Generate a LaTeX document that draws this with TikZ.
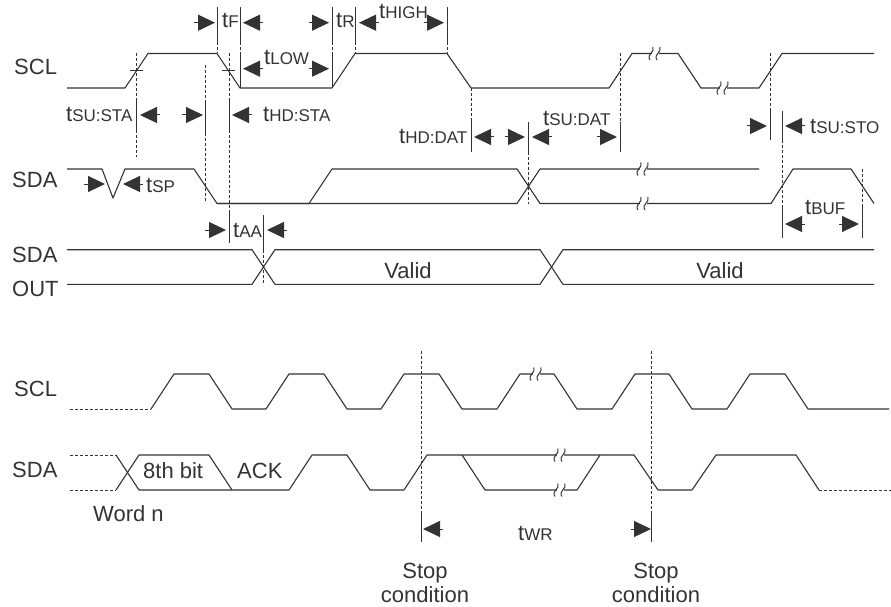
\documentclass[tikz,border=0pt]{standalone}
\usepackage{fontspec}
\setmainfont{Liberation Sans}
\usetikzlibrary{arrows.meta}
\definecolor{ink}{HTML}{333333}
\def\bigfont{\fontsize{22}{24}\selectfont}
\def\tsub(#1){{\bigfont t\fontsize{17}{24}\selectfont #1}}
\tikzset{
  wave/.style={draw=ink,line width=1.1pt,line join=round},
  dashwave/.style={draw=ink,line width=0.9pt,dash pattern=on 3pt off 2pt},
  vsolid/.style={draw=ink,line width=1pt},
  vdash/.style={draw=ink,line width=1pt,dash pattern=on 3pt off 2pt},
  dimarrow/.style={draw=ink,fill=ink,line width=1pt,-{Triangle[length=17pt,width=16pt]}},
  lab/.style={anchor=base west,inner sep=0pt,text=ink,font=\bigfont},
  txt/.style={anchor=base,inner sep=0pt,text=ink,font=\bigfont},
  brk/.pic={
    \fill[white] (-3.5,-3) rectangle (3.5,3);
    \draw[draw=ink,line width=1pt] (-5,6.5) .. controls (-9,1) and (0,-1) .. (-2,-6.5);
    \draw[draw=ink,line width=1pt] (2,6.5) .. controls (-2,1) and (7,-1) .. (5,-6.5);
  }
}
\begin{document}
\begin{tikzpicture}[x=1pt,y=-1pt]
\useasboundingbox (0,0) rectangle (891,607);
% upper waveforms
\draw[wave] (67,88)--(125,88)--(148,53.5)--(217,53.5)--(240,88)--(332,88)--(355,53.5)--(447,53.5)--(471,88)--(609,88)--(632,53.5)--(678,53.5)--(701,88)--(759,88)--(782,53.5)--(874,53.5);
\draw[wave] (67,169)--(102,169)--(113,198)--(125,169)--(194,169)--(217,203.5)--(309,203.5)--(332,169)--(517,169)--(540,203.5)--(771,203.5)--(793,169)--(851,169)--(874,203.5);
\draw[wave] (217,203.5)--(517,203.5)--(540,169)--(759,169);
\draw[wave] (67,249.7)--(252,249.7)--(275,284.3)--(540,284.3)--(563,249.7)--(874,249.7);
\draw[wave] (67,284.3)--(252,284.3)--(275,249.7)--(540,249.7)--(563,284.3)--(874,284.3);
% lower waveforms
\draw[dashwave] (70,409)--(151,409);
\draw[wave] (151,409)--(174,374)--(209,374)--(232,409)--(266,409)--(289,374)--(324,374)--(347,409)--(381,409)--(404,374)--(439,374)--(462,409)--(497,409)--(520,374)--(554,374)--(577,409)--(612,409)--(635,374)--(669,374)--(692,409)--(727,409)--(750,374)--(785,374)--(808,409)--(889,409);
\draw[dashwave] (70,455)--(116,455);
\draw[dashwave] (70,490)--(116,490);
\draw[wave] (116,455)--(139,490)--(232,490)--(289,490)--(312,455)--(347,455)--(370,490)--(404,490)--(427,455)--(634,455)--(658,490)--(692,490)--(716,455)--(796,455)--(819,490);
\draw[wave] (116,490)--(139,455)--(209,455)--(232,490);
\draw[wave] (462,455)--(485,490)--(577,490)--(600,455);
\draw[dashwave] (819,490)--(891,490);
% breaks
\foreach \x/\y in {655/53.5,723/88,643/169,643/203.5,536/374,560/455,560/490}
  \pic at (\x,\y) {brk};
% ticks
\draw[vsolid] (130,70.7)--(143,70.7);
\draw[vsolid] (222,70.7)--(235,70.7);
% solid parts of the extension lines
\foreach \x/\ya/\yb in {136/100/130,205/103/133,229/100/130,229/213/243,217/7/42,240/7/42,240/53/88,332/7/42,332/53/88,355/7/42,447/7/42,471/120/152,528/122/152,620/122/152,770/111/140,782/111/140,782/205/238,862/205/238,263/215/250,421/513/542,651/513/542}
  \draw[vsolid] (\x,\ya)--(\x,\yb);
% dashed parts
\foreach \x/\ya/\yb in {136/53/100,136/130/157,205/65/103,205/133/203,229/53/100,229/130/213,217/42/53,240/42/53,332/42/53,355/42/53,447/42/53,471/88/120,528/152/204,620/53/122,770/53/111,782/140/205,862/169/205,263/250/285,421/351/513,651/351/513}
  \draw[vdash] (\x,\ya)--(\x,\yb);
% arrows
\foreach \name/\xa/\xb/\y in {fa/194/215/22.7,fb/263/243/22.7,ra/309/329/22.7,rb/379/359/22.7,hia/424/444/22.7,loa/309/329/68.7,lob/263/243/68.7,ssa/182/203/115,ssb/160/140/115,hsb/252/232/115,spa/84/105/184,spb/143/123/184,aaa/205/226/230,aab/287/267/230,hda/505/525/137,hdb/494/474/137,sda/597/617/137,sdb/552/532/137,soa/747/767/126,sob/805/785/126,bua/839/859/224,bub/805/785/224,wra/631/651/529,wrb/443/423/529}{
  \coordinate (\name s) at (\xa,\y);
  \coordinate (\name e) at (\xb,\y);
  \draw[dimarrow] (\name s)--(\name e);
}
% timing labels
\node[lab] (tf) at (222,28) {\tsub(F)};
\node[lab] (tr) at (336,28) {\tsub(R)};
\node[lab] (thigh) at (379,19) {\tsub(HIGH)};
\node[lab] (tlow) at (264,65) {\tsub(LOW)};
\node[lab] (tsusta) at (66,122) {\tsub(SU:STA)};
\node[lab] (thdsta) at (263,122) {\tsub(HD:STA)};
\node[lab] (tsp) at (146,192) {\tsub(SP)};
\node[lab] (taa) at (233,237) {\tsub(AA)};
\node[lab] (thddat) at (399,143) {\tsub(HD:DAT)};
\node[lab] (tsudat) at (543,126) {\tsub(SU:DAT)};
\node[lab] (tsusto) at (810,134) {\tsub(SU:STO)};
\node[lab] (tbuf) at (805,214) {\tsub(BUF)};
\node[lab] (twr) at (518,540) {\tsub(WR)};
% signal names
\node[lab] (scla) at (14,75) {SCL};
\node[lab] (sdaa) at (12,187) {SDA};
\node[lab] (sdab) at (12,262) {SDA};
\node[lab] (outa) at (12,296) {OUT};
\node[lab] (sclb) at (14,396) {SCL};
\node[lab] (sdac) at (12,477) {SDA};
\node[lab] (word) at (93,521) {Word n};
\node[lab] (bit) at (143,478) {8th bit};
\node[lab] (ack) at (237,478) {ACK};
\node[txt] (valida) at (408,278) {Valid};
\node[txt] (validb) at (720,278) {Valid};
\node[txt] (stopa) at (425,578) {Stop};
\node[txt] (conda) at (425,602) {condition};
\node[txt] (stopb) at (656,578) {Stop};
\node[txt] (condb) at (656,602) {condition};
\end{tikzpicture}
\end{document}
